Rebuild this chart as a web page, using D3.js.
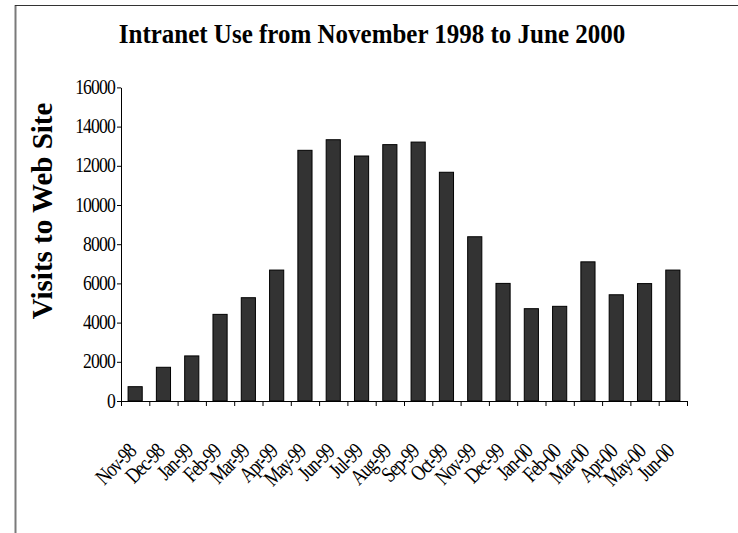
<!DOCTYPE html>
<html>
<head>
<meta charset="utf-8">
<script src="https://cdn.jsdelivr.net/npm/d3@7"></script>
<style>
  body { margin: 0; background: #fff; }
  svg { display: block; }
  svg text { font-family: "Liberation Serif", "Times New Roman", serif; }
</style>
</head>
<body>
<div id="chart"></div>
<script>
const months = ["Nov-98", "Dec-98", "Jan-99", "Feb-99", "Mar-99", "Apr-99", "May-99", "Jun-99",
    "Jul-99", "Aug-99", "Sep-99", "Oct-99", "Nov-99", "Dec-99", "Jan-00", "Feb-00",
    "Mar-00", "Apr-00", "May-00", "Jun-00"];
const visits = [730, 1720, 2300, 4420, 5270, 6680, 12790, 13330,
    12500, 13080, 13210, 11670, 8380, 6000, 4710, 4830,
    7100, 5420, 5990, 6680];
const yTicks = [0, 2000, 4000, 6000, 8000, 10000, 12000, 14000, 16000];

function renderIntranetChart() {
    const width = 738, height = 533;
    const plot = { left: 121, right: 687, top: 87.4, bottom: 401 };

    const svg = d3.select("#chart").append("svg")
        .attr("width", width)
        .attr("height", height);

    // frame lines (chart area border)
    svg.append("line")
        .attr("x1", 15.5).attr("x2", 15.5).attr("y1", 5).attr("y2", height)
        .attr("stroke", "#7a7a7a").attr("stroke-width", 2);
    svg.append("line")
        .attr("x1", 15).attr("x2", width).attr("y1", 5.5).attr("y2", 5.5)
        .attr("stroke", "#333").attr("stroke-width", 1);

    const x = d3.scaleBand()
        .domain(months)
        .range([plot.left, plot.right])
        .paddingInner(0.5)
        .paddingOuter(0.25);

    const y = d3.scaleLinear()
        .domain([0, 16000])
        .range([plot.bottom, plot.top]);

    // Bars
    svg.selectAll(".bar")
        .data(months)
        .enter()
        .append("rect")
        .attr("x", d => x(d))
        .attr("y", (d, i) => y(visits[i]))
        .attr("width", x.bandwidth())
        .attr("height", (d, i) => y(0) - y(visits[i]))
        .attr("fill", "#333333")
        .attr("stroke", "#000")
        .attr("stroke-width", 1);

    // Y axis
    const yAxis = svg.append("g")
        .attr("transform", `translate(${plot.left},0)`)
        .call(d3.axisLeft(y).tickValues(yTicks).tickSize(4).tickSizeOuter(0).tickPadding(0).tickFormat(d3.format("d")));
    yAxis.attr("font-family", null).attr("font-size", null);
    yAxis.selectAll("line, path").attr("stroke", "#000");
    yAxis.selectAll("text")
        .attr("x", null)
        .attr("dy", null)
        .attr("transform", "translate(-6,6) scale(0.84,1)")
        .style("font-size", "21px")
        .style("letter-spacing", "-1px")
        .attr("fill", "#000");

    // X axis: ticks at category boundaries
    const step = x.step();
    const bounds = months.map(d => x(d) - step * 0.25).concat([plot.right]);
    const xAxis = svg.append("g");
    xAxis.append("line")
        .attr("x1", plot.left).attr("x2", plot.right)
        .attr("y1", plot.bottom + 0.5).attr("y2", plot.bottom + 0.5)
        .attr("stroke", "#000");
    xAxis.selectAll(".tick")
        .data(bounds)
        .enter()
        .append("line")
        .attr("x1", d => d + 0.5).attr("x2", d => d + 0.5)
        .attr("y1", plot.bottom).attr("y2", plot.bottom + 5)
        .attr("stroke", "#000");

    xAxis.selectAll(".label")
        .data(months)
        .enter()
        .append("text")
        .attr("transform", d => `translate(${x(d) + x.bandwidth() / 2 + 2},${plot.bottom + 52}) rotate(-45) scale(0.8,1)`)
        .attr("text-anchor", "end")
        .style("font-size", "22px")
        .style("letter-spacing", "-1.5px")
        .text(d => d);

    // Title
    svg.append("text")
        .attr("transform", "translate(372,43) scale(1,1.12)")
        .attr("text-anchor", "middle")
        .style("font-size", "25px")
        .style("font-weight", "bold")
        .text("Intranet Use from November 1998 to June 2000");

    // Y axis title
    svg.append("text")
        .attr("transform", "translate(52,211) rotate(-90)")
        .attr("text-anchor", "middle")
        .style("font-size", "29px")
        .style("font-weight", "bold")
        .text("Visits to Web Site");
}

renderIntranetChart();
</script>
</body>
</html>
